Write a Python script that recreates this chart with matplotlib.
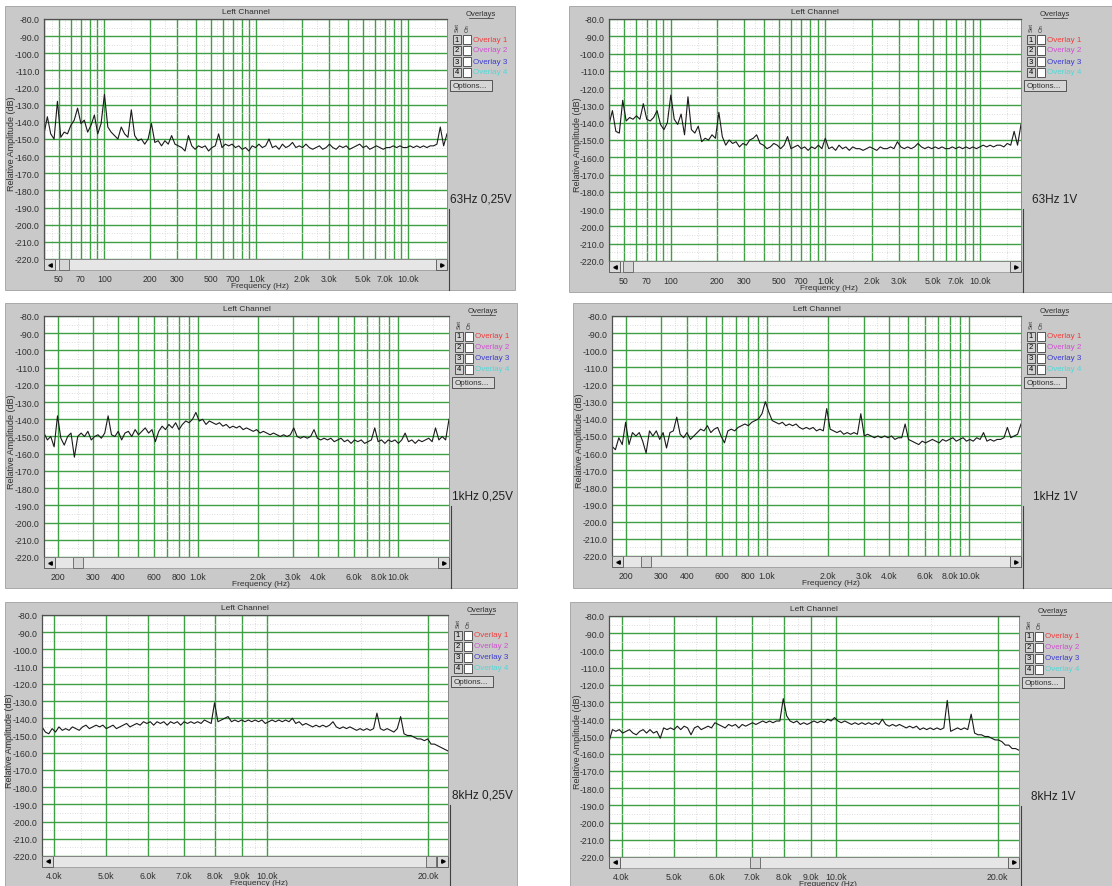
import numpy as np
import matplotlib
matplotlib.use('Agg')
import matplotlib.pyplot as plt
from matplotlib.patches import Rectangle
from matplotlib.ticker import FixedLocator, FixedFormatter, LogLocator, NullFormatter, MultipleLocator

plt.rcParams['font.family'] = ['Liberation Sans', 'DejaVu Sans']

W, H = 1112, 887

# ---- data ----
titles = ['63Hz 0,25V', '63Hz 1V', '1kHz 0,25V', '1kHz 1V', '8kHz 0,25V', '8kHz 1V']

# frequency span of each window (Hz); traces are sampled evenly (log) across it
f_ranges = [(40, 18000), (40, 18400), (170, 18000), (171, 18000), (3800, 21800), (3790, 21900)]

amp_63_025 = [-147, -137, -147, -150, -128, -149, -146, -147, -142, -139,
              -132, -141, -139, -146, -142, -136, -147, -141, -124, -143,
              -146, -148, -150, -143, -147, -149, -133, -148, -151, -150,
              -153, -150, -141, -152, -151, -154, -151, -153, -148, -153,
              -154, -155, -157, -148, -154, -156, -154, -155, -154, -157,
              -155, -154, -147, -155, -153, -154, -153, -155, -154, -156,
              -155, -157, -154, -155, -153, -155, -154, -150, -155, -154,
              -156, -153, -155, -154, -152, -155, -154, -155, -153, -155,
              -156, -155, -154, -156, -155, -153, -155, -156, -154, -155,
              -154, -156, -155, -154, -153, -155, -154, -156, -155, -154,
              -155, -156, -155, -155, -154, -155, -154, -155, -155, -154,
              -155, -154, -155, -154, -155, -154, -154, -153, -143, -154,
              -147]

amp_63_1 = [-141, -133, -145, -146, -127, -139, -137, -138, -136, -138,
            -129, -138, -139, -137, -133, -141, -144, -140, -124, -138,
            -141, -135, -147, -125, -144, -146, -142, -151, -149, -150,
            -147, -149, -134, -148, -153, -150, -152, -151, -154, -152,
            -153, -150, -149, -147, -152, -153, -155, -154, -152, -153,
            -155, -153, -148, -155, -154, -153, -155, -154, -156, -154,
            -155, -153, -155, -149, -155, -154, -156, -153, -155, -154,
            -156, -154, -155, -155, -156, -155, -154, -155, -156, -154,
            -155, -155, -154, -155, -151, -154, -155, -154, -155, -154,
            -152, -154, -155, -154, -155, -154, -155, -154, -155, -155,
            -154, -155, -154, -155, -154, -155, -154, -155, -154, -153,
            -154, -153, -154, -153, -153, -154, -152, -153, -145, -153,
            -141]

amp_1k_025 = [-148, -152, -150, -156, -138, -151, -155, -150, -148, -162,
              -150, -148, -150, -147, -152, -150, -149, -151, -148, -138,
              -149, -150, -147, -152, -148, -147, -150, -146, -149, -147,
              -145, -148, -146, -153, -147, -144, -146, -143, -145, -142,
              -146, -143, -141, -142, -140, -136, -141, -140, -143, -141,
              -142, -143, -142, -144, -143, -145, -144, -145, -144, -146,
              -145, -146, -147, -146, -148, -147, -148, -149, -148, -149,
              -150, -149, -150, -149, -145, -150, -151, -150, -151, -150,
              -146, -151, -152, -151, -152, -151, -153, -152, -151, -153,
              -152, -154, -152, -153, -152, -154, -153, -152, -145, -153,
              -152, -154, -152, -153, -152, -154, -152, -148, -153, -152,
              -154, -152, -153, -152, -151, -153, -145, -152, -150, -152,
              -140]

amp_1k_1 = [-156, -158, -151, -155, -142, -155, -148, -150, -148, -153,
            -160, -147, -150, -147, -152, -148, -157, -148, -147, -139,
            -149, -151, -148, -152, -150, -148, -146, -147, -144, -148,
            -146, -145, -150, -154, -147, -146, -147, -145, -144, -143,
            -144, -142, -141, -140, -137, -130, -136, -141, -142, -143,
            -142, -144, -143, -144, -143, -145, -146, -145, -146, -145,
            -147, -146, -147, -134, -146, -147, -148, -147, -149, -148,
            -149, -148, -149, -137, -150, -149, -150, -151, -150, -151,
            -150, -151, -150, -152, -151, -151, -143, -152, -153, -154,
            -155, -153, -154, -153, -152, -153, -154, -152, -153, -152,
            -151, -153, -152, -151, -153, -152, -153, -151, -152, -148,
            -153, -152, -153, -152, -152, -151, -145, -151, -150, -149,
            -143]

amp_8k_025 = [-145, -148, -149, -146, -148, -145, -147, -146, -147, -145,
              -146, -147, -145, -144, -146, -145, -144, -145, -144, -146,
              -145, -144, -146, -145, -144, -143, -145, -144, -143, -144,
              -142, -143, -142, -144, -142, -143, -142, -144, -142, -143,
              -142, -144, -142, -143, -142, -143, -142, -143, -141, -142,
              -143, -131, -142, -141, -140, -139, -142, -141, -142, -141,
              -142, -141, -142, -141, -142, -141, -143, -142, -141, -142,
              -141, -142, -141, -142, -140, -143, -142, -144, -143, -144,
              -145, -144, -145, -144, -145, -144, -142, -145, -146, -145,
              -146, -145, -146, -147, -146, -147, -146, -147, -146, -137,
              -146, -147, -146, -147, -148, -146, -139, -149, -150, -150,
              -151, -152, -152, -153, -152, -155, -155, -156, -157, -158,
              -159]

amp_8k_1 = [-153, -146, -147, -146, -148, -147, -146, -148, -149, -147,
            -146, -148, -146, -148, -147, -151, -145, -146, -145, -146,
            -144, -146, -144, -145, -149, -145, -144, -146, -145, -144,
            -145, -142, -143, -144, -145, -143, -144, -143, -145, -143,
            -144, -143, -142, -143, -142, -141, -142, -141, -142, -141,
            -141, -128, -138, -141, -142, -141, -143, -142, -143, -142,
            -141, -142, -141, -142, -140, -141, -139, -141, -142, -141,
            -142, -143, -142, -143, -142, -143, -142, -143, -142, -143,
            -140, -143, -144, -143, -144, -143, -144, -145, -144, -145,
            -144, -146, -145, -146, -145, -146, -145, -146, -145, -129,
            -147, -146, -145, -146, -145, -146, -137, -148, -149, -149,
            -150, -150, -151, -152, -152, -153, -155, -155, -157, -157,
            -158]

amps = [amp_63_025, amp_63_1, amp_1k_025, amp_1k_1, amp_8k_025, amp_8k_1]

xt_low = [50, 70, 100, 200, 300, 500, 700, 1000, 2000, 3000, 5000, 7000, 10000]
xl_low = ['50', '70', '100', '200', '300', '500', '700', '1.0k', '2.0k', '3.0k', '5.0k', '7.0k', '10.0k']
xt_mid = [200, 300, 400, 600, 800, 1000, 2000, 3000, 4000, 6000, 8000, 10000]
xl_mid = ['200', '300', '400', '600', '800', '1.0k', '2.0k', '3.0k', '4.0k', '6.0k', '8.0k', '10.0k']
xt_high = [4000, 5000, 6000, 7000, 8000, 9000, 10000, 20000]
xl_high = ['4.0k', '5.0k', '6.0k', '7.0k', '8.0k', '9.0k', '10.0k', '20.0k']
x_ticks = [(xt_low, xl_low), (xt_low, xl_low), (xt_mid, xl_mid), (xt_mid, xl_mid),
           (xt_high, xl_high), (xt_high, xl_high)]

y_ticks = list(range(-80, -221, -10))
y_labels = ['%.1f' % v for v in y_ticks]

overlay_names = ['Overlay 1', 'Overlay 2', 'Overlay 3', 'Overlay 4']
overlay_colors = ['#f03c3c', '#d050d0', '#3c3cd0', '#50d8d8']

# ---- layout in pixels: frame box, plot box, scroll thumb x ----
frames = [(5, 7, 515, 291), (569, 7, 1112, 293), (5, 304, 517, 589),
          (573, 304, 1112, 589), (5, 603, 517, 887), (570, 603, 1112, 887)]
plots = [(44, 20, 447, 260), (609, 20, 1021, 262), (44, 317, 449, 558),
         (612, 317, 1021, 557), (42, 616, 448, 857), (609, 617, 1019, 858)]
thumbs = [59, 623, 73, 641, 426, 750]

GREEN = '#3f9f45'
FRAME = '#c9c9c9'
TXT = '#303030'
DOT = '#d2d2d2'

fig = plt.figure(figsize=(W / 100, H / 100), dpi=100)
fig.patch.set_facecolor('white')

bg = fig.add_axes([0, 0, 1, 1])
bg.set_xlim(0, W)
bg.set_ylim(H, 0)
bg.axis('off')

for k in range(6):
    fx0, fy0, fx1, fy1 = frames[k]
    L, T, R, B = plots[k]
    lo, hi = f_ranges[k]

    # gray window frame
    bg.add_patch(Rectangle((fx0, fy0), fx1 - fx0, fy1 - fy0, fc=FRAME, ec='#a0a0a0', lw=0.6))
    bg.plot([R + 2, R + 2], [T + 190, fy1], color='#404040', lw=0.8)

    bg.text((L + R) / 2, T - 7, 'Left Channel', ha='center', va='center', fontsize=6, color=TXT)
    bg.text(L + (R - L) / 2 + 14, B + 27, 'Frequency (Hz)', ha='center', va='center',
            fontsize=6, color=TXT)
    bg.text(L - 32, (T + B) / 2 + 4, 'Relative Amplitude (dB)', rotation=90,
            ha='center', va='center', fontsize=6.5, color=TXT)

    # scroll bar under the plot
    bg.add_patch(Rectangle((L, B), R - L, 11, fc='#e6e6e6', ec='#909090', lw=0.5))
    bg.add_patch(Rectangle((L, B), 11, 11, fc='#dadada', ec='#505050', lw=0.6))
    bg.add_patch(Rectangle((R - 11, B), 11, 11, fc='#dadada', ec='#505050', lw=0.6))
    bg.plot(L + 5.5, B + 5.5, marker='<', ms=2.5, color='black')
    bg.plot(R - 5.5, B + 5.5, marker='>', ms=2.5, color='black')
    bg.add_patch(Rectangle((thumbs[k], B), 10, 11, fc='#d6d6d6', ec='#606060', lw=0.6))

    # overlays column
    bg.text(R + 34, T - 5, 'Overlays', ha='center', va='center', fontsize=5.5, color=TXT)
    bg.plot([R + 22, R + 46], [T - 1.5, T - 1.5], color=TXT, lw=0.5)
    bg.text(R + 10, T + 8, 'Set', rotation=90, ha='center', va='center', fontsize=4.2, color=TXT)
    bg.text(R + 20, T + 8, 'On', rotation=90, ha='center', va='center', fontsize=4.2, color=TXT)
    for j in range(4):
        yy = T + 20 + 11 * j
        bg.add_patch(Rectangle((R + 6, yy - 4.5), 8, 9, fc='#d2d2d2', ec='#404040', lw=0.6))
        bg.text(R + 10, yy, str(j + 1), ha='center', va='center', fontsize=5.5, color='black')
        bg.add_patch(Rectangle((R + 16, yy - 4.5), 8, 9, fc='white', ec='#404040', lw=0.6))
        bg.text(R + 26, yy, overlay_names[j], ha='left', va='center', fontsize=5.8,
                color=overlay_colors[j])
    bg.add_patch(Rectangle((R + 3, T + 61), 42, 11, fc='#d6d6d6', ec='#404040', lw=0.6))
    bg.text(R + 6, T + 66.5, 'Options...', ha='left', va='center', fontsize=5.8, color=TXT)

    bg.text(R + 34, T + 180, titles[k], ha='center', va='center', fontsize=8.5, color='#202020')

    # the spectrum plot
    ax = fig.add_axes([L / W, 1 - B / H, (R - L) / W, (B - T) / H])
    ax.set_facecolor('white')
    ax.set_xscale('log')
    ax.set_xlim(lo, hi)
    ax.set_ylim(-220, -80)
    ax.set_axisbelow(True)

    xt, xl = x_ticks[k]
    ax.xaxis.set_major_locator(FixedLocator(xt))
    ax.xaxis.set_major_formatter(FixedFormatter(xl))
    ax.xaxis.set_minor_locator(LogLocator(base=10, subs=np.arange(1, 10), numticks=60))
    ax.xaxis.set_minor_formatter(NullFormatter())
    ax.set_yticks(y_ticks)
    ax.set_yticklabels(y_labels)
    ax.yaxis.set_minor_locator(MultipleLocator(5))

    ax.grid(which='both', axis='x', color=GREEN, lw=1.0)
    ax.grid(which='major', axis='y', color=GREEN, lw=1.0)
    ax.grid(which='minor', axis='y', color=DOT, lw=0.6, ls=(0, (1, 2)))
    for dec in [10, 100, 1000, 10000]:
        for n in range(1, 10):
            fx = (n + 0.5) * dec
            if lo < fx < hi:
                ax.axvline(fx, color=DOT, lw=0.6, ls=(0, (1, 2)), zorder=0)

    ax.tick_params(which='both', length=0, labelsize=6.3, colors=TXT)
    ax.tick_params(axis='x', pad=11)
    ax.tick_params(axis='y', pad=3)
    for side in ['left', 'top']:
        ax.spines[side].set_color('#505050')
        ax.spines[side].set_linewidth(0.9)
    for side in ['right', 'bottom']:
        ax.spines[side].set_color('#808080')
        ax.spines[side].set_linewidth(0.6)

    freqs = np.geomspace(lo, hi, len(amps[k]))
    ax.plot(freqs, amps[k], color='#1a1a1a', lw=0.8)

fig.savefig('out.png', dpi=100)
